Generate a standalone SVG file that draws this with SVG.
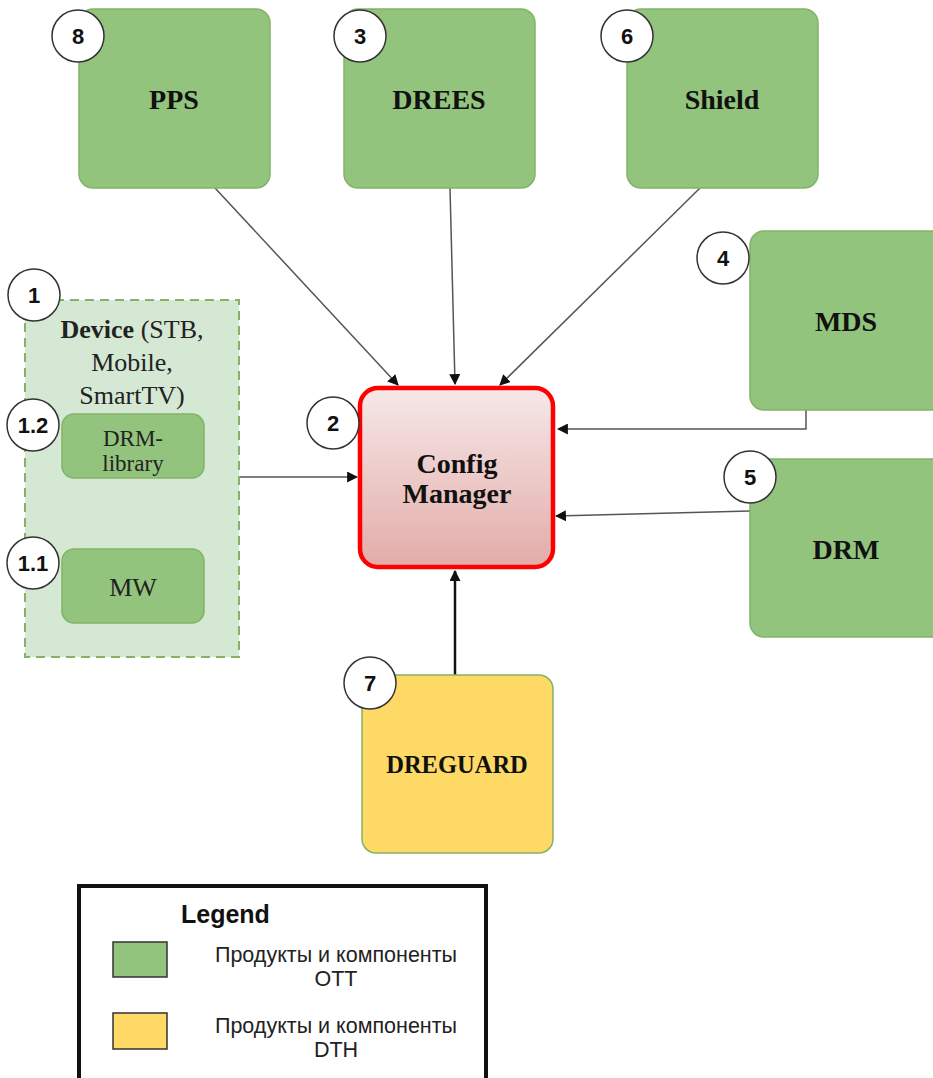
<svg xmlns="http://www.w3.org/2000/svg" width="933" height="1078" viewBox="0 0 933 1078">
<style>
.g{fill:#93c47d;stroke:#82b366;stroke-width:1.5}
.y{fill:#ffd966;stroke:#82b366;stroke-width:1.5}
.lbl{font-family:"Liberation Serif",serif;font-weight:bold;font-size:28px;fill:#111;text-anchor:middle}
.ser{font-family:"Liberation Serif",serif;font-size:26px;fill:#222;text-anchor:middle}
.num circle{fill:#fff;stroke:#333;stroke-width:1.5}
.num text{font-family:"Liberation Sans",sans-serif;font-weight:bold;font-size:22px;fill:#111;text-anchor:middle}
.c{stroke:#555;stroke-width:1.5;fill:none}
.lg{font-family:"Liberation Sans",sans-serif;font-size:21.5px;fill:#222;text-anchor:middle}
</style>
<defs>
<linearGradient id="cm" x1="0" y1="0" x2="0" y2="1">
<stop offset="0" stop-color="#f6e8e8"/>
<stop offset="1" stop-color="#e2aca8"/>
</linearGradient>
<marker id="ab" viewBox="0 0 10 10" refX="9" refY="5" markerWidth="11" markerHeight="11" orient="auto-start-reverse" markerUnits="userSpaceOnUse">
<path d="M0,0 L10,5 L0,10 z" fill="#111"/>
</marker>
</defs>
<rect width="933" height="1078" fill="#fff"/>

<g id="connectors">
<line class="c" x1="215" y1="188" x2="398" y2="385" marker-end="url(#ab)"/>
<line class="c" x1="450" y1="188" x2="455" y2="384" marker-end="url(#ab)"/>
<line class="c" x1="700" y1="188" x2="500" y2="385" marker-end="url(#ab)"/>
<polyline class="c" points="806,410 806,429 558,429" marker-end="url(#ab)"/>
<line class="c" x1="750" y1="511" x2="556" y2="516" marker-end="url(#ab)"/>
<line class="c" x1="239" y1="477" x2="357" y2="477" marker-end="url(#ab)"/>
<line x1="455" y1="675" x2="455" y2="571" stroke="#111" stroke-width="2.5" marker-end="url(#ab)"/>
<line x1="132" y1="480" x2="132" y2="547" stroke="#333" stroke-width="1.5" marker-start="url(#ab)" marker-end="url(#ab)"/>
</g>

<g id="device">
<rect x="25" y="300" width="214" height="357" fill="#d5e8d4" stroke="#82b366" stroke-width="2" stroke-dasharray="9,6"/>
<text class="ser" x="132" y="338"><tspan font-weight="bold">Device</tspan> (STB,</text>
<text class="ser" x="132" y="371">Mobile,</text>
<text class="ser" x="132" y="404">SmartTV)</text>
<g class="num"><circle cx="34" cy="295" r="26"/><text x="34" y="303">1</text></g>
</g>

<g id="drm-library">
<rect class="g" x="62" y="414" width="142" height="64" rx="12"/>
<text class="ser" x="133" y="446" style="font-size:23px">DRM-</text>
<text class="ser" x="133" y="471" style="font-size:23px">library</text>
<g class="num"><circle cx="33" cy="425" r="26"/><text x="33" y="433">1.2</text></g>
</g>

<g id="mw">
<rect class="g" x="62" y="549" width="142" height="74" rx="12"/>
<text class="ser" x="133" y="596">MW</text>
<g class="num"><circle cx="33" cy="563" r="26"/><text x="33" y="571">1.1</text></g>
</g>

<g id="pps">
<rect class="g" x="79" y="9" width="191" height="179" rx="14"/>
<text class="lbl" x="174" y="109">PPS</text>
<g class="num"><circle cx="78" cy="36" r="26"/><text x="78" y="44">8</text></g>
</g>

<g id="drees">
<rect class="g" x="344" y="9" width="191" height="179" rx="14"/>
<text class="lbl" x="439" y="109">DREES</text>
<g class="num"><circle cx="360" cy="36" r="26"/><text x="360" y="44">3</text></g>
</g>

<g id="shield">
<rect class="g" x="627" y="9" width="191" height="179" rx="14"/>
<text class="lbl" x="722" y="109">Shield</text>
<g class="num"><circle cx="627" cy="36" r="26"/><text x="627" y="44">6</text></g>
</g>

<g id="mds">
<rect class="g" x="750" y="231" width="195" height="179" rx="14"/>
<text class="lbl" x="846" y="331">MDS</text>
<g class="num"><circle cx="723" cy="258" r="26"/><text x="723" y="266">4</text></g>
</g>

<g id="drm">
<rect class="g" x="750" y="459" width="195" height="178" rx="14"/>
<text class="lbl" x="846" y="559">DRM</text>
<g class="num"><circle cx="750" cy="477" r="26"/><text x="750" y="485">5</text></g>
</g>

<g id="config-manager">
<rect x="360" y="388" width="193" height="179" rx="18" fill="url(#cm)" stroke="#ff0000" stroke-width="4.5"/>
<text class="lbl" x="457" y="473">Config</text>
<text class="lbl" x="457" y="503">Manager</text>
<g class="num"><circle cx="333" cy="423" r="26"/><text x="333" y="431">2</text></g>
</g>

<g id="dreguard">
<rect class="y" x="362" y="675" width="191" height="178" rx="14"/>
<text class="lbl" x="457" y="773" style="font-size:24.5px">DREGUARD</text>
<g class="num"><circle cx="370" cy="683" r="26"/><text x="370" y="691">7</text></g>
</g>

<g id="legend">
<rect x="79" y="886" width="407" height="200" fill="#fff" stroke="#111" stroke-width="4"/>
<text x="181" y="923" font-family="Liberation Sans,sans-serif" font-weight="bold" font-size="25" fill="#111">Legend</text>
<rect x="113" y="942" width="54" height="35" fill="#93c47d" stroke="#333" stroke-width="1.5"/>
<text class="lg" x="336" y="962">Продукты и компоненты</text>
<text class="lg" x="336" y="986">OTT</text>
<rect x="113" y="1013" width="54" height="36" fill="#ffd966" stroke="#333" stroke-width="1.5"/>
<text class="lg" x="336" y="1033">Продукты и компоненты</text>
<text class="lg" x="336" y="1057">DTH</text>
</g>
</svg>
